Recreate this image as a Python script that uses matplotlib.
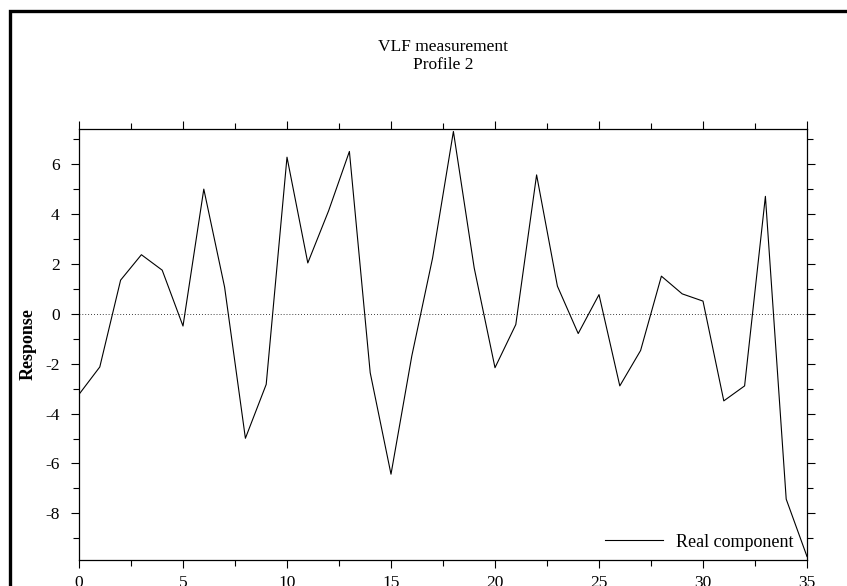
import matplotlib
matplotlib.use("Agg")
import matplotlib.pyplot as plt
from matplotlib.patches import Rectangle
from matplotlib.ticker import MultipleLocator

# profile stations and real-component response
station = list(range(36))
real_component = [
    -3.23, -2.13, 1.35, 2.37, 1.75, -0.49, 5.00, 1.07, -4.99, -2.83,
    6.28, 2.04, 4.13, 6.51, -2.36, -6.43, -1.69, 2.24, 7.31, 1.84,
    -2.16, -0.43, 5.57, 1.11, -0.79, 0.77, -2.89, -1.47, 1.51, 0.80,
    0.51, -3.49, -2.89, 4.71, -7.43, -9.73,
]

TITLE = "VLF measurement\nProfile 2"
Y_LABEL = "Response"
LEGEND_LABEL = "Real component"

plt.rcParams["font.family"] = ["Liberation Serif", "DejaVu Serif"]
plt.rcParams["axes.unicode_minus"] = False

fig = plt.figure(figsize=(8.47, 5.86), dpi=100)
fig.patch.set_facecolor("white")

# heavy frame around the page (runs off the right and bottom edges)
W, H = 847.0, 586.0
fig.patches.append(Rectangle((10 / W, -0.2), 1.2, (H - 11) / H + 0.2,
                             transform=fig.transFigure, fill=False,
                             edgecolor="black", linewidth=2.4, zorder=0))

ax = fig.add_axes([79 / W, 26 / H, 728 / W, 431 / H])

ax.plot(station, real_component, color="black", linewidth=0.8,
        label=LEGEND_LABEL, zorder=3)
ax.axhline(0, color="black", linewidth=0.6, linestyle=(0, (1, 2.5)), zorder=2)

ax.set_xlim(0, 35)
ax.set_ylim(-9.87, 7.41)

ax.xaxis.set_major_locator(MultipleLocator(5))
ax.xaxis.set_minor_locator(MultipleLocator(2.5))
ax.yaxis.set_major_locator(MultipleLocator(2))
ax.yaxis.set_minor_locator(MultipleLocator(1))

ax.tick_params(which="both", direction="out", top=True, right=True,
               labeltop=False, labelright=False, width=0.8, colors="black")
ax.tick_params(which="major", length=6)
ax.tick_params(which="minor", length=4)
ax.tick_params(axis="y", which="major", labelsize=12.5, pad=8)
ax.tick_params(axis="x", which="major", labelsize=12.5, pad=5)

for s in ax.spines.values():
    s.set_linewidth(0.9)

ax.set_ylabel(Y_LABEL, fontsize=13, fontweight="bold", labelpad=6)
ax.set_title(TITLE, fontsize=12.5, pad=43, linespacing=1.2)

ax.legend(loc="lower right", bbox_to_anchor=(0.994, 0.0), frameon=False,
          fontsize=13, handlelength=3.2, handletextpad=0.72, borderaxespad=0.12)

fig.savefig("out.png", dpi=100, facecolor="white")
